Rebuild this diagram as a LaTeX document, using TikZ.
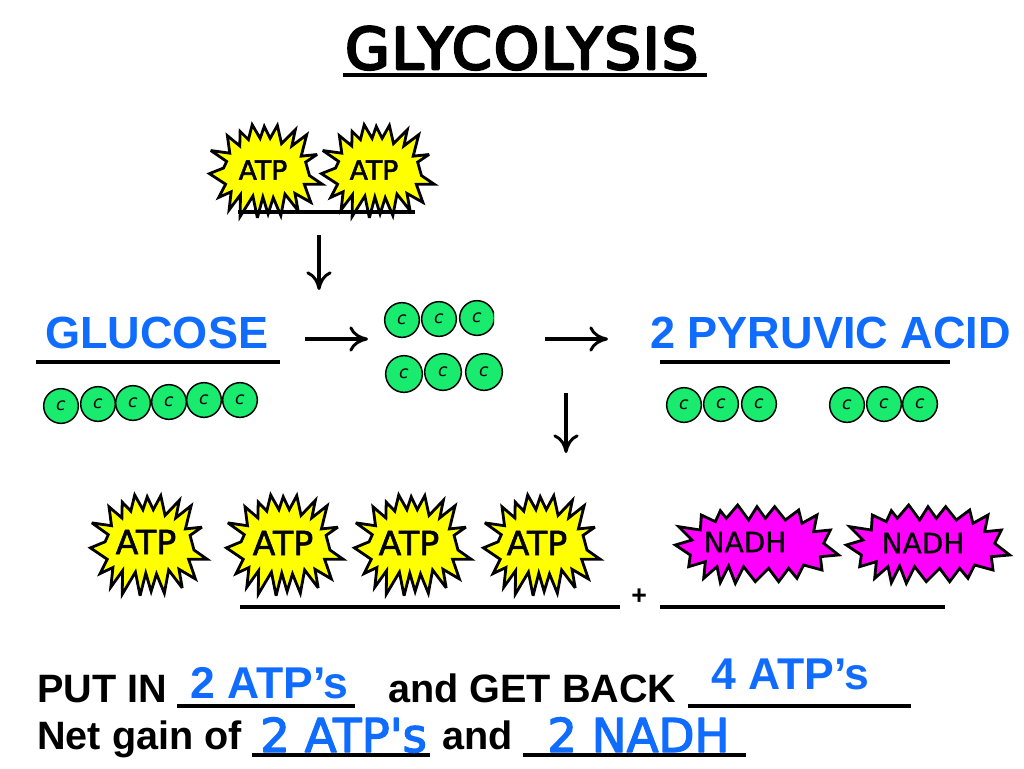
\documentclass[tikz,border=0pt]{standalone}
\usepackage{fontspec}
\setmainfont{Liberation Sans}
\newfontfamily\handfont{DejaVu Sans}
\newfontfamily\titlefont[LetterSpace=3.5]{DejaVu Sans}
\newcommand{\heavytext}[2]{\special{pdf:literal direct 2 Tr #1 w 1 j}#2\special{pdf:literal direct 0 Tr}}
\usetikzlibrary{arrows.meta}
\definecolor{bluetext}{RGB}{15,108,255}
\definecolor{ballgreen}{RGB}{25,235,110}
\definecolor{burstyellow}{RGB}{255,255,0}
\definecolor{burstmagenta}{RGB}{255,0,255}
\tikzset{
  label base/.style={inner sep=0pt,anchor=base west},
  blacktext/.style={label base,font=\fontsize{29.7}{31}\selectfont\bfseries,text=black},
  bluebig/.style={label base,font=\fontsize{33.8}{36}\selectfont\bfseries,text=bluetext},
  bluemid/.style={label base,font=\fontsize{33.4}{35}\selectfont\bfseries,text=bluetext},
  bluehand/.style={label base,font=\handfont\fontsize{35}{36}\selectfont,text=bluetext},
  rule/.style={line width=2.3pt,black},
  bigarrow/.style={line width=2.3pt,-{Computer Modern Rightarrow[length=14pt,width=19pt,line width=2.2pt]}},
  ball/.style={circle,draw=black,line width=1.1pt,fill=ballgreen,inner sep=0pt,font=\handfont\itshape\fontsize{13}{14}\selectfont},
  ballr/.style={ball,minimum size=26pt},
  ballb/.style={ball,minimum size=27.5pt},
  burstline/.style={draw=black,line width=2.1pt,line join=miter,miter limit=4},
  atptext/.style={inner sep=0pt,font=\handfont\fontsize{25}{26}\selectfont},
  atptextsmall/.style={inner sep=0pt,font=\handfont\fontsize{20}{21}\selectfont},
  nadhtext/.style={inner sep=0pt,font=\handfont\fontsize{21}{22}\selectfont},
  atpburst/.pic={
    \path[burstline,fill=burstyellow] (-160,-62)--(-105,-54)--(-112,-107)--(-76,-76)--(-75,-120)--(-51,-95)--(-40,-140)--(-17,-99)--(-5,-135)--(12,-99)--(33,-138)--(45,-83)--(85,-125)--(75,-76)--(118,-110)--(102,-45)--(148,-50)--(115,-27)--(126,14)--(163,40)--(111,40)--(130,95)--(84,68)--(93,120)--(55,70)--(43,135)--(21,81)--(6,130)--(-9,79)--(-25,142)--(-38,76)--(-75,138)--(-74,72)--(-107,118)--(-101,63)--(-137,80)--(-117,40)--(-164,8)--(-123,-9)--(-114,-29)--cycle;
  },
  nadhburst/.pic={
    \path[burstline,fill=burstmagenta] (-235,-52)--(-170,-42)--(-167,-87)--(-125,-67)--(-110,-100)--(-92,-77)--(-58,-117)--(-25,-72)--(0,-112)--(25,-77)--(53,-112)--(85,-72)--(125,-102)--(135,-62)--(180,-87)--(170,-37)--(220,-42)--(200,-2)--(245,33)--(190,38)--(195,78)--(140,63)--(120,103)--(95,73)--(65,113)--(35,73)--(-5,113)--(-40,68)--(-65,118)--(-85,66)--(-110,116)--(-120,68)--(-160,103)--(-155,53)--(-205,68)--(-200,33)--(-245,3)--(-195,-12)--cycle;
  },
}
\begin{document}
\begin{tikzpicture}[x=0.75pt,y=-0.75pt]
\useasboundingbox (0,0) rectangle (1024,768);
% title
\node[label base,font=\titlefont\fontsize{43}{46}\selectfont] (title) at (345,69) {\heavytext{2}{GLYCOLYSIS}};
\coordinate (tl) at (343,75); \coordinate (tr) at (707,75);
\draw[rule,line width=2.6pt] (tl) -- (tr);
% top ATP
\pic[xscale=0.345,yscale=0.33] at (266,171) {atpburst};
\pic[xscale=0.345,yscale=0.33] at (378,171) {atpburst};
\node[atptextsmall] (atpa) at (263,170) {\heavytext{0.4}{ATP}};
\node[atptextsmall] (atpb) at (374,170) {\heavytext{0.4}{ATP}};
\coordinate (ua) at (238,212); \coordinate (ub) at (415,212);
\draw[rule] (ua) -- (ub);
% arrows
\coordinate (d1a) at (319,235); \coordinate (d1b) at (319,290);
\draw[bigarrow] (d1a) -- (d1b);
\coordinate (r1a) at (305,339); \coordinate (r1b) at (368,339);
\draw[bigarrow] (r1a) -- (r1b);
\coordinate (r2a) at (545,339); \coordinate (r2b) at (608,339);
\draw[bigarrow] (r2a) -- (r2b);
\coordinate (d2a) at (566,393); \coordinate (d2b) at (566,453);
\draw[bigarrow] (d2a) -- (d2b);
% headings
\node[bluebig] (glucose) at (45,348) {GLUCOSE};
\node[bluebig] (pyruvic) at (650,348) {2 PYRUVIC ACID};
\coordinate (ga) at (36,362); \coordinate (gb) at (280,362);
\draw[rule] (ga) -- (gb);
\coordinate (pa) at (660,362); \coordinate (pb) at (950,362);
\draw[rule] (pa) -- (pb);
% six carbons
\foreach \n/\x/\y in {1/61/406,2/98/404,3/133/403,4/169/402,5/204/400,6/240/400}
  \node[ballr] (g\n) at (\x,\y) {c};
% two three-carbon rows in the middle
\begin{scope}
\clip (380,295) rectangle (494,345);
\foreach \n/\x/\y in {1/402/320,2/439/319,3/477/318}
  \node[ballr] (m\n) at (\x,\y) {c};
\end{scope}
\begin{scope}
\clip (380,348) rectangle (503,395);
\foreach \n/\x/\y in {1/404/374,2/443/372,3/484/372}
  \node[ballb] (n\n) at (\x,\y) {c};
\end{scope}
% pyruvic rows
\begin{scope}
\clip (660,380) rectangle (777,430);
\foreach \n/\x/\y in {1/684/405,2/721/404,3/759/404}
  \node[ballr] (p\n) at (\x,\y) {c};
\end{scope}
\begin{scope}
\clip (822,380) rectangle (938,430);
\foreach \n/\x/\y in {1/847/405,2/884/404,3/920/404}
  \node[ballr] (q\n) at (\x,\y) {c};
\end{scope}
% ATP row
\foreach \x in {149,285,413,542}
  \pic[scale=0.357] at (\x,545) {atpburst};
\node[atptext] (b1) at (146,542) {\heavytext{0.4}{ATP}};
\node[atptext] (b2) at (283,543) {\heavytext{0.4}{ATP}};
\node[atptext] (b3) at (409,543) {\heavytext{0.4}{ATP}};
\node[atptext] (b4) at (537,543) {\heavytext{0.4}{ATP}};
\foreach \x in {757,928}
  \pic[scale=0.3333] at (\x,544) {nadhburst};
\node[nadhtext] (c1) at (745,542) {\heavytext{0.2}{NADH}};
\node[nadhtext] (c2) at (923,543) {\heavytext{0.2}{NADH}};
\coordinate (ra) at (240,607); \coordinate (rb) at (620,607);
\draw[rule] (ra) -- (rb);
\node[label base,font=\fontsize{20}{22}\selectfont\bfseries] (plus) at (631,604) {+};
\coordinate (sa) at (660,607); \coordinate (sb) at (945,607);
\draw[rule] (sa) -- (sb);
% bottom text
\node[blacktext] (putin) at (37,702) {PUT IN};
\coordinate (la) at (177,706); \coordinate (lb) at (355,706);
\draw[rule] (la) -- (lb);
\node[bluemid] (two) at (190,698) {2 ATP’s};
\node[blacktext] (getback) at (388,702) {and GET BACK};
\coordinate (lc) at (688,706); \coordinate (ld) at (911,706);
\draw[rule] (lc) -- (ld);
\node[bluemid] (four) at (711,689) {4 ATP’s};
\node[blacktext] (net) at (37,749) {Net gain of};
\coordinate (le) at (252,755); \coordinate (lf) at (430,755);
\draw[rule] (le) -- (lf);
\node[bluehand] (twob) at (260,752) {\heavytext{1}{2 ATP's}};
\node[blacktext] (and) at (442,749) {and};
\coordinate (lg) at (523,755); \coordinate (lh) at (746,755);
\draw[rule] (lg) -- (lh);
\node[bluehand] (nadhtwo) at (547,752) {\heavytext{1}{2 NADH}};
\end{tikzpicture}
\end{document}
